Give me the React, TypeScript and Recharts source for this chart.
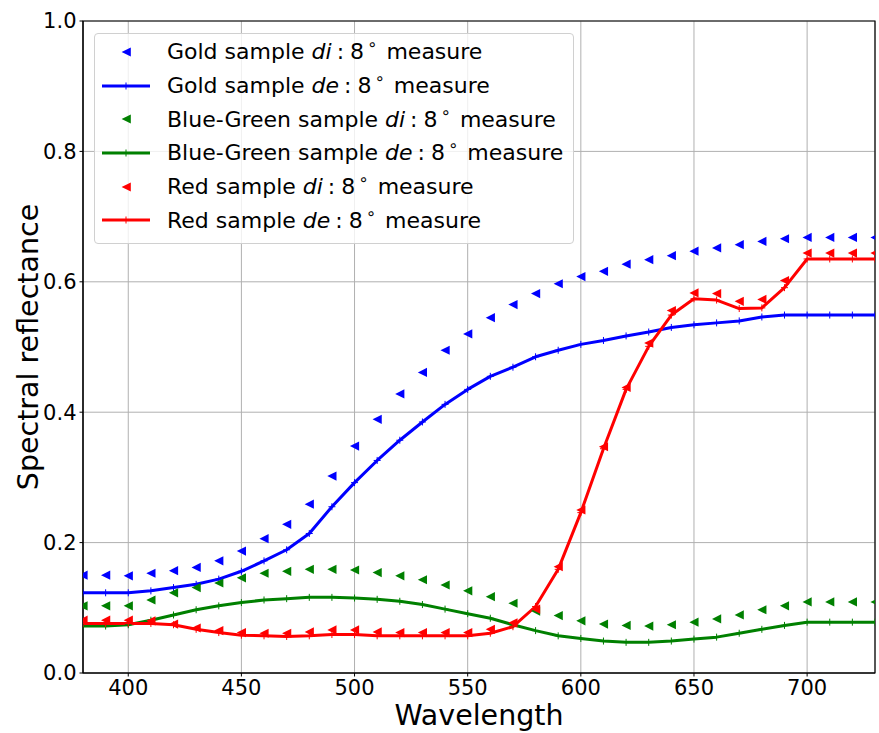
import {
  LineChart,
  Line,
  XAxis,
  YAxis,
  CartesianGrid,
  ReferenceArea,
  Label,
} from "recharts";

// wavelength grid (nm)
const wavelengths = [
  380, 390, 400, 410, 420, 430, 440, 450, 460, 470, 480, 490, 500, 510, 520, 530, 540, 550,
  560, 570, 580, 590, 600, 610, 620, 630, 640, 650, 660, 670, 680, 690, 700, 710, 720, 730,
];

const goldDi = [
  0.15, 0.15, 0.149, 0.153, 0.157, 0.162, 0.172, 0.187, 0.206, 0.228, 0.259, 0.302, 0.348,
  0.389, 0.428, 0.461, 0.495, 0.52, 0.545, 0.565, 0.582, 0.597, 0.608, 0.616, 0.627, 0.634,
  0.64, 0.647, 0.652, 0.657, 0.662, 0.666, 0.668, 0.668, 0.668, 0.668,
];
const goldDe = [
  0.123, 0.123, 0.123, 0.126, 0.131, 0.136, 0.144, 0.156, 0.172, 0.189, 0.214, 0.255, 0.292,
  0.326, 0.357, 0.385, 0.412, 0.435, 0.455, 0.469, 0.485, 0.495, 0.504, 0.51, 0.517, 0.523,
  0.53, 0.534, 0.537, 0.54, 0.546, 0.549, 0.549, 0.549, 0.549, 0.549,
];
const blueGreenDi = [
  0.103, 0.103, 0.103, 0.112, 0.123, 0.131, 0.138, 0.146, 0.153, 0.156, 0.159, 0.159, 0.158,
  0.154, 0.149, 0.143, 0.135, 0.126, 0.117, 0.107, 0.095, 0.088, 0.08, 0.075, 0.073, 0.072,
  0.074, 0.078, 0.083, 0.089, 0.097, 0.103, 0.109, 0.109, 0.109, 0.109,
];
const blueGreenDe = [
  0.072, 0.072, 0.074, 0.081, 0.089, 0.097, 0.103, 0.108, 0.112, 0.114, 0.116, 0.116, 0.115,
  0.113, 0.11, 0.105, 0.098, 0.091, 0.084, 0.074, 0.065, 0.057, 0.053, 0.049, 0.047, 0.047,
  0.049, 0.052, 0.055, 0.061, 0.067, 0.073, 0.078, 0.078, 0.078, 0.078,
];
const redDi = [
  0.081, 0.081, 0.081, 0.08, 0.075, 0.069, 0.065, 0.062, 0.061, 0.061, 0.063, 0.066, 0.066,
  0.063, 0.062, 0.062, 0.062, 0.062, 0.067, 0.077, 0.098, 0.163, 0.25, 0.347, 0.438, 0.506,
  0.556, 0.583, 0.582, 0.57, 0.573, 0.602, 0.644, 0.644, 0.644, 0.644,
];
const redDe = [
  0.076, 0.076, 0.076, 0.076, 0.074, 0.067, 0.062, 0.058, 0.057, 0.056, 0.057, 0.059, 0.059,
  0.057, 0.057, 0.057, 0.057, 0.057, 0.061, 0.071, 0.102, 0.159, 0.246, 0.344, 0.435, 0.501,
  0.549, 0.574, 0.572, 0.559, 0.56, 0.591, 0.635, 0.635, 0.635, 0.635,
];

const xTicks = [400, 450, 500, 550, 600, 650, 700];
const yTicks = [0, 0.2, 0.4, 0.6, 0.8, 1.0];

const BLUE = "#0000ff";
const GREEN = "#008000";
const RED = "#ff0000";
const FONT = "'DejaVu Sans', sans-serif";

const data = wavelengths.map((w, i) => ({
  w,
  goldDi: goldDi[i],
  goldDe: goldDe[i],
  bgDi: blueGreenDi[i],
  bgDe: blueGreenDe[i],
  redDi: redDi[i],
  redDe: redDe[i],
}));

const series = [
  { key: "goldDi", name: "Gold sample", mode: "di", color: BLUE },
  { key: "goldDe", name: "Gold sample", mode: "de", color: BLUE },
  { key: "bgDi", name: "Blue-Green sample", mode: "di", color: GREEN },
  { key: "bgDe", name: "Blue-Green sample", mode: "de", color: GREEN },
  { key: "redDi", name: "Red sample", mode: "di", color: RED },
  { key: "redDe", name: "Red sample", mode: "de", color: RED },
];

// matplotlib '<' marker
function triangleDot(color: string) {
  return (props: any) => {
    const { cx, cy, index } = props;
    if (cx == null || cy == null) return <g key={index} />;
    return (
      <polygon
        key={index}
        points={`${cx - 4.6},${cy} ${cx + 4.6},${cy - 4.6} ${cx + 4.6},${cy + 4.6}`}
        fill={color}
      />
    );
  };
}

// matplotlib '+' marker
function plusDot(color: string) {
  return (props: any) => {
    const { cx, cy, index } = props;
    if (cx == null || cy == null) return <g key={index} />;
    return (
      <path
        key={index}
        d={`M${cx - 3.5},${cy}H${cx + 3.5}M${cx},${cy - 3.5}V${cy + 3.5}`}
        stroke={color}
        strokeWidth={1}
        fill="none"
      />
    );
  };
}

function YTitle(props: any) {
  const { viewBox } = props;
  const x = viewBox.x + 38;
  const y = viewBox.y + viewBox.height / 2;
  return (
    <text
      x={x}
      y={y}
      transform={`rotate(-90 ${x} ${y})`}
      textAnchor="middle"
      fontFamily={FONT}
      fontSize={28.5}
      fill="#000"
    >
      Spectral reflectance
    </text>
  );
}

function LegendBox() {
  return (
    <div
      style={{
        position: "absolute",
        left: 94,
        top: 33,
        width: 478,
        padding: "1px 0 6px 0",
        border: "1px solid #d0d0d0",
        borderRadius: 4,
        background: "rgba(255,255,255,0.8)",
        fontFamily: FONT,
        fontSize: 22,
        color: "#000",
      }}
    >
      {series.map((s) => (
        <div
          key={s.key}
          style={{ display: "flex", alignItems: "center", height: 33.7, whiteSpace: "nowrap" }}
        >
          <svg width={66} height={20} style={{ marginLeft: 6, flex: "none" }}>
            {s.mode === "di" ? (
              <polygon points="20.6,10 29.8,5.4 29.8,14.6" fill={s.color} />
            ) : (
              <g>
                <line x1={1} y1={10} x2={49} y2={10} stroke={s.color} strokeWidth={3} />
                <line x1={25} y1={6.5} x2={25} y2={13.5} stroke={s.color} strokeWidth={1} />
              </g>
            )}
          </svg>
          <span>
            {s.name} <i>{s.mode}</i>
            <span style={{ margin: "0 6px 0 5px" }}>:</span>8
            <span
              style={{
                fontSize: "0.75em",
                position: "relative",
                top: "-0.55em",
                marginLeft: 3,
                marginRight: 2,
              }}
            >
              ∘
            </span>{" "}
            measure
          </span>
        </div>
      ))}
    </div>
  );
}

export default function App() {
  return (
    <div style={{ position: "absolute", left: 0, top: 0, width: 879, height: 733, background: "#fff" }}>
      <LineChart
        width={879}
        height={733}
        data={data}
        margin={{ top: 21, right: 4, left: 0, bottom: 0 }}
      >
        <CartesianGrid stroke="#b0b0b0" strokeWidth={1} />
        <XAxis
          dataKey="w"
          type="number"
          domain={[380, 730]}
          ticks={xTicks}
          allowDataOverflow
          height={60}
          stroke="#000"
          tickSize={3.5}
          tickMargin={3.5}
          tick={{ fontFamily: FONT, fontSize: 21, fill: "#000" }}
        >
          <Label
            value="Wavelength"
            position="insideBottom"
            offset={8}
            style={{ fontFamily: FONT, fontSize: 28.5, fill: "#000" }}
          />
        </XAxis>
        <YAxis
          type="number"
          domain={[0, 1]}
          ticks={yTicks}
          allowDataOverflow
          width={83}
          stroke="#000"
          tickSize={3.5}
          tickMargin={3}
          tickFormatter={(v: number) => v.toFixed(1)}
          tick={{ fontFamily: FONT, fontSize: 21, fill: "#000" }}
        >
          <Label content={YTitle} />
        </YAxis>
        <ReferenceArea x1={380} x2={730} y1={0} y2={1} fill="none" stroke="#000" strokeWidth={1.2} />
        {series.map((s) =>
          s.mode === "di" ? (
            <Line
              key={s.key}
              dataKey={s.key}
              stroke="none"
              dot={triangleDot(s.color)}
              activeDot={false}
              isAnimationActive={false}
            />
          ) : (
            <Line
              key={s.key}
              type="linear"
              dataKey={s.key}
              stroke={s.color}
              strokeWidth={3}
              strokeLinejoin="round"
              dot={plusDot(s.color)}
              activeDot={false}
              isAnimationActive={false}
            />
          )
        )}
      </LineChart>
      <LegendBox />
    </div>
  );
}
